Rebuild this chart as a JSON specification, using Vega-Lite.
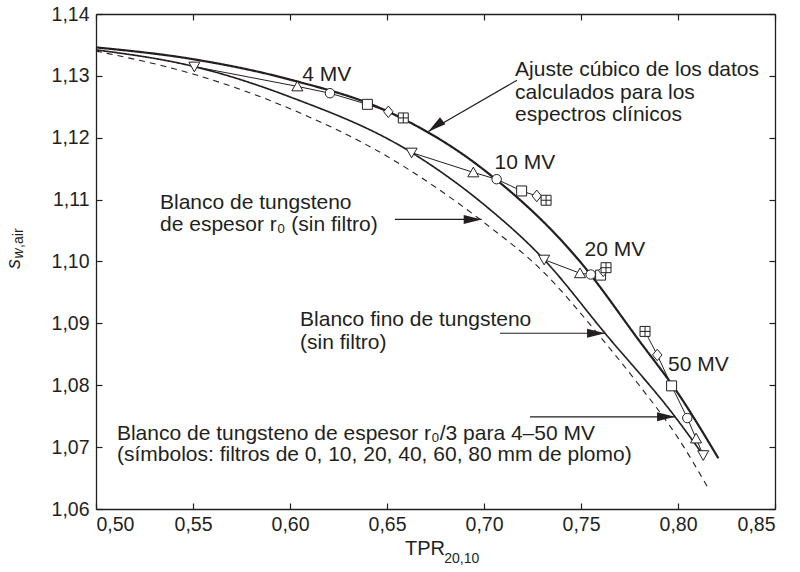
{
  "$schema": "https://vega.github.io/schema/vega-lite/v6.json",
  "width": 679,
  "height": 495,
  "autosize": {"type": "none"},
  "padding": {"left": 96, "top": 14, "right": 25, "bottom": 63},
  "config": {
    "view": {"stroke": null},
    "font": "Liberation Sans",
    "axis": {
      "domainColor": "#231f20", "domainWidth": 1.3, "tickColor": "#231f20", "tickWidth": 1.2,
      "tickSize": -6, "grid": false, "labelFont": "Liberation Sans", "labelFontSize": 19.5,
      "labelColor": "#231f20", "title": null
    }
  },
  "datasets": {
    "curves": [
      {"c": "fit", "x": 0.50, "y": 1.1346}, {"c": "fit", "x": 0.55, "y": 1.1327}, {"c": "fit", "x": 0.60, "y": 1.1294},
      {"c": "fit", "x": 0.65, "y": 1.1243}, {"c": "fit", "x": 0.70, "y": 1.1148}, {"c": "fit", "x": 0.75, "y": 1.0998},
      {"c": "fit", "x": 0.78, "y": 1.0872}, {"c": "fit", "x": 0.80, "y": 1.0787}, {"c": "fit", "x": 0.8208, "y": 1.0682},
      {"c": "thin", "x": 0.50, "y": 1.1342}, {"c": "thin", "x": 0.5507, "y": 1.1315}, {"c": "thin", "x": 0.60, "y": 1.1266},
      {"c": "thin", "x": 0.6627, "y": 1.1176}, {"c": "thin", "x": 0.70, "y": 1.1092}, {"c": "thin", "x": 0.731, "y": 1.1003},
      {"c": "thin", "x": 0.7624, "y": 1.0884}, {"c": "thin", "x": 0.7985, "y": 1.0749}, {"c": "thin", "x": 0.813, "y": 1.0687},
      {"c": "dash", "x": 0.50, "y": 1.1340}, {"c": "dash", "x": 0.55, "y": 1.1303}, {"c": "dash", "x": 0.60, "y": 1.1247},
      {"c": "dash", "x": 0.65, "y": 1.1170}, {"c": "dash", "x": 0.70, "y": 1.1063}, {"c": "dash", "x": 0.73, "y": 1.0985},
      {"c": "dash", "x": 0.76, "y": 1.0878}, {"c": "dash", "x": 0.78, "y": 1.0800}, {"c": "dash", "x": 0.80, "y": 1.0715},
      {"c": "dash", "x": 0.8157, "y": 1.0633}
    ],
    "series": [
      {"e": "4 MV", "f": "0", "o": 0, "x": 0.5507, "y": 1.1315},
      {"e": "4 MV", "f": "10", "o": 1, "x": 0.6038, "y": 1.1283},
      {"e": "4 MV", "f": "20", "o": 2, "x": 0.6206, "y": 1.1272},
      {"e": "4 MV", "f": "40", "o": 3, "x": 0.6399, "y": 1.1254},
      {"e": "4 MV", "f": "60", "o": 4, "x": 0.6507, "y": 1.1242},
      {"e": "4 MV", "f": "80", "o": 5, "x": 0.6584, "y": 1.1232},
      {"e": "10 MV", "f": "0", "o": 0, "x": 0.6627, "y": 1.1176},
      {"e": "10 MV", "f": "10", "o": 1, "x": 0.6945, "y": 1.1144},
      {"e": "10 MV", "f": "20", "o": 2, "x": 0.7065, "y": 1.1133},
      {"e": "10 MV", "f": "40", "o": 3, "x": 0.7194, "y": 1.1114},
      {"e": "10 MV", "f": "60", "o": 4, "x": 0.7272, "y": 1.1106},
      {"e": "10 MV", "f": "80", "o": 5, "x": 0.7320, "y": 1.1099},
      {"e": "20 MV", "f": "0", "o": 0, "x": 0.7310, "y": 1.1003},
      {"e": "20 MV", "f": "10", "o": 1, "x": 0.7495, "y": 1.0981},
      {"e": "20 MV", "f": "20", "o": 2, "x": 0.7550, "y": 1.0979},
      {"e": "20 MV", "f": "40", "o": 3, "x": 0.7601, "y": 1.0978},
      {"e": "20 MV", "f": "60", "o": 4, "x": 0.7615, "y": 1.0985},
      {"e": "20 MV", "f": "80", "o": 5, "x": 0.7629, "y": 1.0990},
      {"e": "50 MV", "f": "0", "o": 0, "x": 0.8130, "y": 1.0687},
      {"e": "50 MV", "f": "10", "o": 1, "x": 0.8093, "y": 1.0714},
      {"e": "50 MV", "f": "20", "o": 2, "x": 0.8048, "y": 1.0747},
      {"e": "50 MV", "f": "40", "o": 3, "x": 0.7967, "y": 1.0799},
      {"e": "50 MV", "f": "60", "o": 4, "x": 0.7893, "y": 1.0849},
      {"e": "50 MV", "f": "80", "o": 5, "x": 0.7830, "y": 1.0887}
    ],
    "energyLabels": [
      {"t": "4 MV", "x": 0.6189, "y": 1.1301},
      {"t": "10 MV", "x": 0.7211, "y": 1.1159},
      {"t": "20 MV", "x": 0.7675, "y": 1.1019},
      {"t": "50 MV", "x": 0.8105, "y": 1.0833}
    ],
    "notes": [
      {"t": "Ajuste cúbico de los datos", "x": 0.716, "y": 1.1310},
      {"t": "calculados para los", "x": 0.716, "y": 1.1273},
      {"t": "espectros clínicos", "x": 0.716, "y": 1.1237},
      {"t": "Blanco de tungsteno", "x": 0.533, "y": 1.1095},
      {"t": "de espesor r₀ (sin filtro)", "x": 0.533, "y": 1.1059},
      {"t": "Blanco fino de tungsteno", "x": 0.6052, "y": 1.0905},
      {"t": "(sin filtro)", "x": 0.6052, "y": 1.0868},
      {"t": "Blanco de tungsteno de espesor r₀/3 para 4–50 MV", "x": 0.5108, "y": 1.0722},
      {"t": "(símbolos: filtros de 0, 10, 20, 40, 60, 80 mm de plomo)", "x": 0.5108, "y": 1.0687}
    ],
    "arrowsH": [
      {"x": 0.6541, "y": 1.1068, "x2": 0.6988},
      {"x": 0.7082, "y": 1.0884, "x2": 0.7624},
      {"x": 0.7237, "y": 1.0749, "x2": 0.7985}
    ],
    "arrowsD": [
      {"x": 0.7170, "y": 1.1293, "x2": 0.6713, "y2": 1.1210}
    ]
  },
  "resolve": {"axis": {"x": "independent", "y": "independent"}},
  "layer": [
    {
      "data": {"name": "curves"},
      "mark": {"type": "line", "interpolate": "monotone", "color": "#231f20"},
      "encoding": {
        "x": {"field": "x", "type": "quantitative", "scale": {"domain": [0.5, 0.85], "nice": false, "zero": false},
              "axis": {"orient": "bottom", "values": [0.5, 0.55, 0.6, 0.65, 0.7, 0.75, 0.8, 0.85], "labelPadding": 12,
                       "labelExpr": "replace(format(datum.value, '.2f'), '.', ',')"}},
        "y": {"field": "y", "type": "quantitative", "scale": {"domain": [1.06, 1.14], "nice": false, "zero": false},
              "axis": {"orient": "left", "values": [1.06, 1.07, 1.08, 1.09, 1.10, 1.11, 1.12, 1.13, 1.14], "labelPadding": 13,
                       "labelExpr": "replace(format(datum.value, '.2f'), '.', ',')"}},
        "detail": {"field": "c"},
        "strokeWidth": {"field": "c", "type": "nominal", "scale": {"domain": ["fit", "thin", "dash"], "range": [2.2, 1.1, 1.1]}, "legend": null},
        "strokeDash": {"field": "c", "type": "nominal", "scale": {"domain": ["fit", "thin", "dash"], "range": [[1, 0], [1, 0], [6, 5]]}, "legend": null}
      }
    },
    {
      "data": {"name": "series"},
      "mark": {"type": "line", "color": "#231f20", "strokeWidth": 1},
      "encoding": {
        "x": {"field": "x", "type": "quantitative",
              "axis": {"orient": "top", "values": [0.5, 0.55, 0.6, 0.65, 0.7, 0.75, 0.8, 0.85], "labels": false}},
        "y": {"field": "y", "type": "quantitative",
              "axis": {"orient": "right", "values": [1.06, 1.07, 1.08, 1.09, 1.10, 1.11, 1.12, 1.13, 1.14], "labels": false}},
        "detail": {"field": "e"},
        "order": {"field": "o", "type": "quantitative"}
      }
    },
    {
      "data": {"name": "series"},
      "mark": {"type": "point", "filled": true, "fill": "white", "stroke": "#231f20", "strokeWidth": 1, "opacity": 1, "size": 110},
      "encoding": {
        "x": {"field": "x", "type": "quantitative", "axis": null},
        "y": {"field": "y", "type": "quantitative", "axis": null},
        "shape": {"field": "f", "type": "nominal", "legend": null,
                  "scale": {"domain": ["0", "10", "20", "40", "60", "80"],
                            "range": ["M0,1L1.05,-0.85L-1.05,-0.85Z",
                                      "M0,-1L1.05,0.85L-1.05,0.85Z",
                                      "M-0.9,0A0.9,0.9 0 1,1 0.9,0A0.9,0.9 0 1,1 -0.9,0Z",
                                      "M-0.95,-0.95L0.95,-0.95L0.95,0.95L-0.95,0.95Z",
                                      "M0,-1.1L0.9,0L0,1.1L-0.9,0Z",
                                      "M-0.95,-0.95L0.95,-0.95L0.95,0.95L-0.95,0.95Z M0,-0.95L0,0.95 M-0.95,0L0.95,0"]}}
      }
    },
    {
      "data": {"name": "energyLabels"},
      "mark": {"type": "text", "fontSize": 21, "color": "#231f20", "align": "center", "baseline": "middle"},
      "encoding": {
        "x": {"field": "x", "type": "quantitative", "axis": null},
        "y": {"field": "y", "type": "quantitative", "axis": null},
        "text": {"field": "t"}
      }
    },
    {
      "data": {"name": "notes"},
      "mark": {"type": "text", "fontSize": 21, "color": "#231f20", "align": "left", "baseline": "middle"},
      "encoding": {
        "x": {"field": "x", "type": "quantitative", "axis": null},
        "y": {"field": "y", "type": "quantitative", "axis": null},
        "text": {"field": "t"}
      }
    },
    {
      "data": {"name": "arrowsH"},
      "mark": {"type": "rule", "color": "#231f20", "strokeWidth": 1.2},
      "encoding": {
        "x": {"field": "x", "type": "quantitative", "axis": null},
        "x2": {"field": "x2"},
        "y": {"field": "y", "type": "quantitative", "axis": null}
      }
    },
    {
      "data": {"name": "arrowsH"},
      "mark": {"type": "point", "shape": "M0,0L-2,-0.5L-2,0.5Z", "filled": true, "color": "#231f20", "opacity": 1, "size": 324, "angle": 0},
      "encoding": {
        "x": {"field": "x2", "type": "quantitative", "axis": null},
        "y": {"field": "y", "type": "quantitative", "axis": null}
      }
    },
    {
      "data": {"name": "arrowsD"},
      "mark": {"type": "rule", "color": "#231f20", "strokeWidth": 1.2},
      "encoding": {
        "x": {"field": "x", "type": "quantitative", "axis": null},
        "x2": {"field": "x2"},
        "y": {"field": "y", "type": "quantitative", "axis": null},
        "y2": {"field": "y2"}
      }
    },
    {
      "data": {"name": "arrowsD"},
      "mark": {"type": "point", "shape": "M0,0L-2,-0.5L-2,0.5Z", "filled": true, "color": "#231f20", "opacity": 1, "size": 324, "angle": 143},
      "encoding": {
        "x": {"field": "x2", "type": "quantitative", "axis": null},
        "y": {"field": "y2", "type": "quantitative", "axis": null}
      }
    },
    {
      "data": {"values": [
        {"t": "TPR", "x": 0.6593, "y": 1.0535, "p": "main"},
        {"t": "20,10", "x": 0.6795, "y": 1.0520, "p": "sub"}
      ]},
      "mark": {"type": "text", "color": "#231f20", "align": "left", "baseline": "middle"},
      "encoding": {
        "x": {"field": "x", "type": "quantitative", "axis": null},
        "y": {"field": "y", "type": "quantitative", "axis": null},
        "text": {"field": "t"},
        "size": {"field": "p", "type": "nominal", "scale": {"domain": ["main", "sub"], "range": [20, 14]}, "legend": null}
      }
    },
    {
      "data": {"values": [
        {"t": "s", "x": 0.4577, "y": 1.0988, "p": "main"},
        {"t": "w", "x": 0.4603, "y": 1.1005, "p": "sub"}
      ]},
      "mark": {"type": "text", "color": "#231f20", "align": "left", "baseline": "middle", "angle": 270, "fontStyle": "italic"},
      "encoding": {
        "x": {"field": "x", "type": "quantitative", "axis": null},
        "y": {"field": "y", "type": "quantitative", "axis": null},
        "text": {"field": "t"},
        "size": {"field": "p", "type": "nominal", "scale": {"domain": ["main", "sub"], "range": [20, 14]}, "legend": null}
      }
    },
    {
      "data": {"values": [
        {"t": ",air", "x": 0.4603, "y": 1.1022}
      ]},
      "mark": {"type": "text", "color": "#231f20", "align": "left", "baseline": "middle", "angle": 270, "fontSize": 14},
      "encoding": {
        "x": {"field": "x", "type": "quantitative", "axis": null},
        "y": {"field": "y", "type": "quantitative", "axis": null},
        "text": {"field": "t"}
      }
    }
  ]
}
